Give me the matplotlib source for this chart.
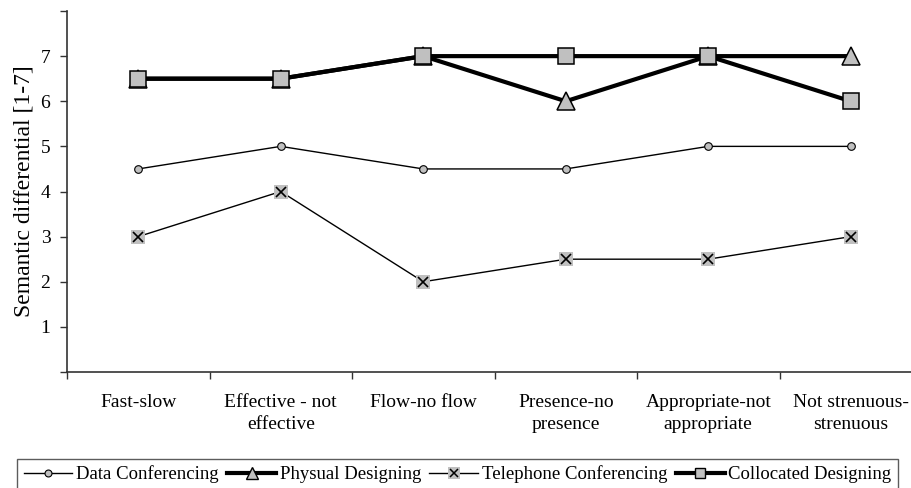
import matplotlib
matplotlib.use("Agg")
import matplotlib.pyplot as plt
from matplotlib.lines import Line2D
from matplotlib.legend_handler import HandlerTuple

categories = ["Fast-slow", "Effective - not\neffective", "Flow-no flow",
              "Presence-no\npresence", "Appropriate-not\nappropriate", "Not strenuous-\nstrenuous"]
data_conf = [4.5, 5, 4.5, 4.5, 5, 5]
physual = [6.5, 6.5, 7, 6, 7, 7]
telephone = [3, 4, 2, 2.5, 2.5, 3]
collocated = [6.5, 6.5, 7, 7, 7, 6]
series_names = ["Data Conferencing", "Physual Designing", "Telephone Conferencing", "Collocated Designing"]

plt.rcParams['font.family'] = ['Liberation Serif', 'DejaVu Serif']

W, H = 911, 488
fig = plt.figure(figsize=(W/100, H/100), dpi=100)
# axes spanning x 67..922 px, y 11..372 px
ax = fig.add_axes([67/W, 1-372/H, (922-67)/W, (372-11)/H])

gray = '#C0C0C0'
x = list(range(len(categories)))

ax.plot(x, data_conf, color='black', lw=1, marker='o', ms=5.5,
        mfc=gray, mec='black', mew=0.8, zorder=3)
ax.plot(x, physual, color='black', lw=3, marker='^', ms=12.5,
        mfc=gray, mec='black', mew=1.1, zorder=4)
ax.plot(x, telephone, color='black', lw=1, marker='s', ms=9.5,
        mfc=gray, mec=gray, mew=0, zorder=3)
ax.plot(x, telephone, color='none', lw=0, marker='x', ms=7,
        mec='black', mew=1.2, zorder=3.5)
ax.plot(x, collocated, color='black', lw=3, marker='s', ms=11.5,
        mfc=gray, mec='black', mew=1.1, zorder=5)

ax.set_xlim(-0.5, len(categories) - 0.5)
ax.set_ylim(0, 8)
ax.set_yticks(range(0, 9))
ax.set_yticklabels([''] + [str(i) for i in range(1, 8)] + [''])
ax.set_xticks([i - 0.5 for i in range(len(categories))], minor=False)
ax.set_xticklabels([])
ax.set_xticks(x, minor=True)
ax.set_xticklabels(categories, minor=True, fontsize=14, linespacing=1.4)
ax.tick_params(axis='x', which='minor', length=0, pad=16)
ax.tick_params(axis='x', which='major', direction='out', length=5, width=1, color='#333333')
ax.tick_params(axis='y', direction='out', length=5, width=1, labelsize=14, color='#333333', pad=7)
for s in ['top', 'right']:
    ax.spines[s].set_visible(False)
for s in ['left', 'bottom']:
    ax.spines[s].set_color('#333333')
    ax.spines[s].set_linewidth(1.2)
ax.set_ylabel("Semantic differential [1-7]", fontsize=17, labelpad=4)

# legend proxies (smaller markers as in the reference legend)
h1 = Line2D([], [], color='black', lw=1, marker='o', ms=5, mfc=gray, mec='black', mew=0.8)
h2 = Line2D([], [], color='black', lw=3, marker='^', ms=8.5, mfc=gray, mec='black', mew=1)
h3a = Line2D([], [], color='black', lw=1, marker='s', ms=8, mfc=gray, mec=gray, mew=0)
h3b = Line2D([], [], color='none', lw=0, marker='x', ms=6, mec='black', mew=1.1)
h4 = Line2D([], [], color='black', lw=3, marker='s', ms=7.5, mfc=gray, mec='black', mew=1)

leg = fig.legend([h1, h2, (h3a, h3b), h4], series_names, loc='upper left',
                 bbox_to_anchor=(17/W, 1-459/H), borderaxespad=0, ncol=4, fontsize=13.5,
                 frameon=True, fancybox=False, edgecolor='#333333', handlelength=2.6,
                 handletextpad=0.2, columnspacing=0.45, borderpad=0.35,
                 handler_map={tuple: HandlerTuple(ndivide=1)})
leg.get_frame().set_linewidth(1)

fig.savefig("out.png", dpi=100)
